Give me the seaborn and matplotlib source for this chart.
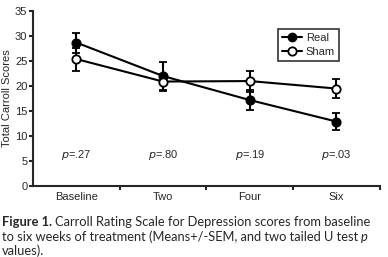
import pandas as pd
import matplotlib
matplotlib.use("Agg")
import matplotlib.pyplot as plt
import seaborn as sns
from matplotlib.lines import Line2D

# data
weeks = ["Baseline", "Two", "Four", "Six"]
real_mean = [28.7, 22.0, 17.2, 12.9]
real_sem = [2.0, 2.9, 2.0, 1.7]
sham_mean = [25.4, 20.9, 21.0, 19.5]
sham_sem = [2.3, 1.6, 2.1, 1.9]
p_values = ["=.27", "=.80", "=.19", "=.03"]

sns.set_style("ticks")
plt.rcParams['font.family'] = ['Liberation Sans', 'DejaVu Sans']

df = pd.DataFrame({
    "week": list(range(4)) * 2,
    "score": real_mean + sham_mean,
    "group": ["Real"] * 4 + ["Sham"] * 4,
})

fig = plt.figure(figsize=(3.88, 2.57), dpi=100)
ax = fig.add_axes([0.085, 0.276, 0.894, 0.681])

ax.errorbar(range(4), real_mean, yerr=real_sem, fmt="none", ecolor="black",
            elinewidth=1.5, capsize=3, capthick=1.5)
ax.errorbar(range(4), sham_mean, yerr=sham_sem, fmt="none", ecolor="black",
            elinewidth=1.5, capsize=3, capthick=1.5)

sns.lineplot(data=df, x="week", y="score", hue="group", style="group",
             palette=["black", "black"], markers=["o", "o"], dashes=False,
             linewidth=1.5, markersize=6, ax=ax, legend=False)
data_lines = [ln for ln in ax.lines if len(ln.get_xdata()) == 4]
for ln in data_lines:
    ln.set_markeredgecolor("black")
    ln.set_markeredgewidth(1.3)
# the sham line gets hollow markers
data_lines[-1].set_markerfacecolor("white")

for i, p in enumerate(p_values):
    ax.text(i, 6.2, "$p$" + p, ha="center", va="center", fontsize=8)

ax.set_xlim(-0.5, 3.5)
ax.set_ylim(0, 35)
ax.set_yticks(range(0, 36, 5))
ax.set_xticks([0.5, 1.5, 2.5, 3.5])
ax.set_xticklabels([])
ax.set_xticks(range(4), minor=True)
ax.set_xticklabels(weeks, minor=True)
ax.tick_params(axis="x", which="minor", length=0, labelsize=8, pad=4)
ax.tick_params(axis="x", which="major", length=3, width=1.5)
ax.tick_params(axis="y", length=3, width=1.5, labelsize=8, pad=1)
ax.set_xlabel("")
ax.set_ylabel("Total Carroll Scores", fontsize=8, labelpad=2)
for s in ["left", "bottom"]:
    ax.spines[s].set_linewidth(1.5)
sns.despine(ax=ax)

handles = [
    Line2D([], [], color="black", marker="o", markersize=6, linewidth=1.5),
    Line2D([], [], color="black", marker="o", markersize=6, linewidth=1.5,
           markerfacecolor="white", markeredgewidth=1.3),
]
leg = ax.legend(handles, ["Real", "Sham"], loc="upper left",
                bbox_to_anchor=(0.69, 0.93), fontsize=8, frameon=True,
                fancybox=False, edgecolor="black", handlelength=1.8,
                handletextpad=0.3, borderpad=0.4, labelspacing=0.3)
leg.get_frame().set_linewidth(1.2)

# caption
cap_font = ['Lato', 'DejaVu Sans']
cap_size = 9.3
t1 = fig.text(0.005, 0.119, "Figure 1.", fontsize=cap_size, fontweight="bold",
              family=cap_font, va="baseline")
fig.canvas.draw()
bb = t1.get_window_extent()
fig.text((bb.x1 + 3) / fig.bbox.width, 0.119,
         "Carroll Rating Scale for Depression scores from baseline",
         fontsize=cap_size, family=cap_font, va="baseline")
t2 = fig.text(0.005, 0.064, "to six weeks of treatment (Means+/-SEM, and two tailed U test",
              fontsize=cap_size, family=cap_font, va="baseline")
fig.canvas.draw()
bb = t2.get_window_extent()
fig.text((bb.x1 + 3) / fig.bbox.width, 0.064, "p", fontsize=cap_size,
         family=cap_font, style="italic", va="baseline")
fig.text(0.005, 0.009, "values).", fontsize=cap_size, family=cap_font, va="baseline")

fig.savefig("out.png", dpi=100)
